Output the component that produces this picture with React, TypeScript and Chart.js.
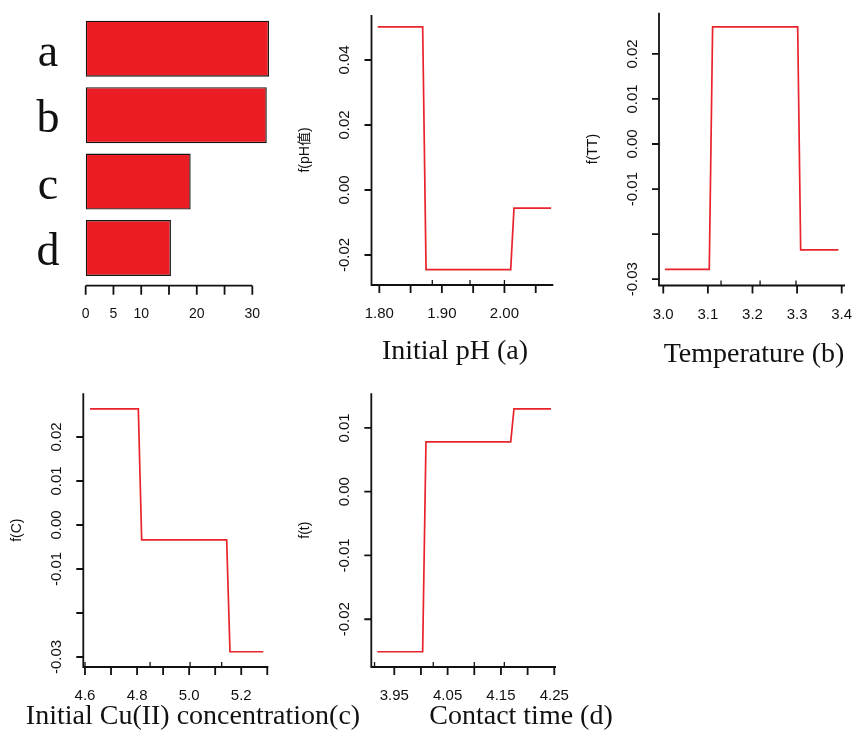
import React, { useEffect, useRef } from "react";
import { Chart, registerables } from "chart.js";

Chart.register(...registerables);

// ---------- Relative influence (bar panel) ----------
const importanceLabels = ["a", "b", "c", "d"];
const importanceValues = [33.0, 32.6, 18.9, 15.35];
const importanceTicks = [0, 5, 10, 15, 20, 25, 30];
const importanceTickLabels = ["0", "5", "10", "", "20", "", "30"];

// ---------- Initial pH (a) ----------
const phX = [1.7975, 1.8693, 1.8747, 2.01, 2.0153, 2.0745];
const phY = [0.0502, 0.0502, -0.0245, -0.0245, -0.0056, -0.0056];
const phXTicks = [1.8, 1.85, 1.9, 1.95, 2.0, 2.05];
const phXTickLabels = ["1.80", "", "1.90", "", "2.00", ""];
const phYTicks = [0.04, 0.02, 0.0, -0.02];
const phYTickLabels = ["0.04", "0.02", "0.00", "-0.02"];
const phRug = [1.8847, 1.945, 2.0];

// ---------- Temperature (b) ----------
const tempX = [3.0038, 3.1031, 3.1106, 3.3013, 3.308, 3.3926];
const tempY = [-0.0278, -0.0278, 0.026, 0.026, -0.0235, -0.0235];
const tempXTicks = [3.0, 3.1, 3.2, 3.3, 3.4];
const tempXTickLabels = ["3.0", "3.1", "3.2", "3.3", "3.4"];
const tempYTicks = [0.02, 0.01, 0.0, -0.01, -0.02, -0.03];
const tempYTickLabels = ["0.02", "0.01", "0.00", "-0.01", "", "-0.03"];
const tempRug = [3.1295, 3.217, 3.2975];

// ---------- Initial Cu(II) concentration (c) ----------
const cuX = [4.6192, 4.8048, 4.8177, 5.1441, 5.1568, 5.2847];
const cuY = [0.0264, 0.0264, -0.0034, -0.0034, -0.0288, -0.0288];
const cuXTicks = [4.6, 4.7, 4.8, 4.9, 5.0, 5.1, 5.2, 5.3];
const cuXTickLabels = ["4.6", "", "4.8", "", "5.0", "", "5.2", ""];
const cuYTicks = [0.02, 0.01, 0.0, -0.01, -0.02, -0.03];
const cuYTickLabels = ["0.02", "0.01", "0.00", "-0.01", "", "-0.03"];
const cuRug = [4.6, 4.85, 5.0036, 5.125];

// ---------- Contact time (d) ----------
const timeX = [3.9181, 4.0032, 4.0094, 4.1683, 4.1744, 4.2438];
const timeY = [-0.0251, -0.0251, 0.0078, 0.0078, 0.013, 0.013];
const timeXTicks = [3.95, 4.0, 4.05, 4.1, 4.15, 4.2, 4.25];
const timeXTickLabels = ["3.95", "", "4.05", "", "4.15", "", "4.25"];
const timeYTicks = [0.01, 0.0, -0.01, -0.02];
const timeYTickLabels = ["0.01", "0.00", "-0.01", "-0.02"];
const timeRug = [3.913, 4.0231, 4.1, 4.1563];

const RED = "#E8232B";
const BAR_RED = "#EC1C24";
const INK = "#111111";
const SANS = '"Liberation Sans", Arial, "Noto Sans CJK SC", sans-serif';
const SERIF = '"Liberation Serif", "Times New Roman", serif';

type LineCfg = {
  box: [number, number, number, number]; // canvas left, top, width, height
  plot: [number, number, number, number]; // plot left, top, right, bottom
  xRange: [number, number];
  yRange: [number, number];
  xs: number[];
  ys: number[];
  xTicks: number[];
  xTickLabels: string[];
  yTicks: number[];
  yTickLabels: string[];
  rug: number[];
  yTitle: string;
  xTitle: string;
  xTitlePos: [number, number];
};

const panels: LineCfg[] = [
  {
    box: [290, 0, 290, 370],
    plot: [371.5, 15, 553.3, 285],
    xRange: [1.7875, 2.0781],
    yRange: [-0.02923, 0.05385],
    xs: phX, ys: phY,
    xTicks: phXTicks, xTickLabels: phXTickLabels,
    yTicks: phYTicks, yTickLabels: phYTickLabels,
    rug: phRug,
    yTitle: "f(pH值)",
    xTitle: "Initial pH (a)",
    xTitlePos: [455, 352],
  },
  {
    box: [580, 0, 273, 370],
    plot: [659, 12.7, 845, 285.5],
    xRange: [2.9904, 3.4074],
    yRange: [-0.0314, 0.02914],
    xs: tempX, ys: tempY,
    xTicks: tempXTicks, xTickLabels: tempXTickLabels,
    yTicks: tempYTicks, yTickLabels: tempYTickLabels,
    rug: tempRug,
    yTitle: "f(TT)",
    xTitle: "Temperature (b)",
    xTitlePos: [754, 355],
  },
  {
    box: [0, 370, 380, 361],
    plot: [83.3, 393.3, 268.3, 667],
    xRange: [4.5935, 5.304],
    yRange: [-0.03227, 0.02993],
    xs: cuX, ys: cuY,
    xTicks: cuXTicks, xTickLabels: cuXTickLabels,
    yTicks: cuYTicks, yTickLabels: cuYTickLabels,
    rug: cuRug,
    yTitle: "f(C)",
    xTitle: "Initial Cu(II) concentration(c)",
    xTitlePos: [193, 717],
  },
  {
    box: [290, 370, 340, 361],
    plot: [371.3, 393.3, 556, 667],
    xRange: [3.9069, 4.2532],
    yRange: [-0.02749, 0.01543],
    xs: timeX, ys: timeY,
    xTicks: timeXTicks, xTickLabels: timeXTickLabels,
    yTicks: timeYTicks, yTickLabels: timeYTickLabels,
    rug: timeRug,
    yTitle: "f(t)",
    xTitle: "Contact time (d)",
    xTitlePos: [521, 717],
  },
];

function rAxesPlugin(cfg: LineCfg) {
  return {
    id: "rAxes",
    afterDraw(chart: any) {
      const ctx: CanvasRenderingContext2D = chart.ctx;
      const a = chart.chartArea;
      const xs = chart.scales.x;
      const ys = chart.scales.y;
      ctx.save();
      ctx.strokeStyle = INK;
      ctx.fillStyle = INK;
      ctx.lineWidth = 1.8;
      ctx.lineCap = "butt";
      // L-shaped frame
      ctx.beginPath();
      ctx.moveTo(a.left, a.top);
      ctx.lineTo(a.left, a.bottom);
      ctx.lineTo(a.right, a.bottom);
      ctx.stroke();
      // y ticks
      ctx.beginPath();
      cfg.yTicks.forEach((v) => {
        const py = ys.getPixelForValue(v);
        ctx.moveTo(a.left, py);
        ctx.lineTo(a.left - 7, py);
      });
      // x ticks
      cfg.xTicks.forEach((v) => {
        const px = xs.getPixelForValue(v);
        ctx.moveTo(px, a.bottom);
        ctx.lineTo(px, a.bottom + 8);
      });
      ctx.stroke();
      // rug marks
      ctx.lineWidth = 1.3;
      ctx.beginPath();
      cfg.rug.forEach((v) => {
        const px = xs.getPixelForValue(v);
        ctx.moveTo(px, a.bottom);
        ctx.lineTo(px, a.bottom - 5);
      });
      ctx.stroke();
      // y tick labels (rotated)
      ctx.font = `15px ${SANS}`;
      ctx.textAlign = "center";
      ctx.textBaseline = "middle";
      cfg.yTicks.forEach((v, i) => {
        const lab = cfg.yTickLabels[i];
        if (!lab) return;
        const py = ys.getPixelForValue(v);
        ctx.save();
        ctx.translate(a.left - 26.5, py);
        ctx.rotate(-Math.PI / 2);
        ctx.fillText(lab, 0, 0);
        ctx.restore();
      });
      // x tick labels
      cfg.xTicks.forEach((v, i) => {
        const lab = cfg.xTickLabels[i];
        if (!lab) return;
        const px = xs.getPixelForValue(v);
        ctx.fillText(lab, px, a.bottom + 29);
      });
      // y title
      ctx.save();
      ctx.font = `14px ${SANS}`;
      ctx.translate(a.left - 66, (a.top + a.bottom) / 2);
      ctx.rotate(-Math.PI / 2);
      ctx.fillText(cfg.yTitle, 0, 0);
      ctx.restore();
      // x title
      ctx.font = `28px ${SERIF}`;
      ctx.fillText(cfg.xTitle, cfg.xTitlePos[0] - cfg.box[0], cfg.xTitlePos[1] - cfg.box[1]);
      ctx.restore();
    },
  };
}

const barBox: [number, number, number, number] = [0, 0, 290, 370];
const barPlot: [number, number, number, number] = [85.67, 15.5, 280.1, 281.2];

const barAxesPlugin = {
  id: "barAxes",
  afterDraw(chart: any) {
    const ctx: CanvasRenderingContext2D = chart.ctx;
    const a = chart.chartArea;
    const xs = chart.scales.x;
    const ys = chart.scales.y;
    ctx.save();
    ctx.strokeStyle = INK;
    ctx.fillStyle = INK;
    ctx.lineWidth = 1.8;
    const axisY = a.bottom + 4.5;
    const first = xs.getPixelForValue(importanceTicks[0]);
    const last = xs.getPixelForValue(importanceTicks[importanceTicks.length - 1]);
    ctx.beginPath();
    ctx.moveTo(first, axisY);
    ctx.lineTo(last, axisY);
    importanceTicks.forEach((v) => {
      const px = xs.getPixelForValue(v);
      ctx.moveTo(px, axisY);
      ctx.lineTo(px, axisY + 9);
    });
    ctx.stroke();
    ctx.font = `14px ${SANS}`;
    ctx.textAlign = "center";
    ctx.textBaseline = "middle";
    importanceTicks.forEach((v, i) => {
      const lab = importanceTickLabels[i];
      if (!lab) return;
      ctx.fillText(lab, xs.getPixelForValue(v), axisY + 28);
    });
    // category letters
    ctx.font = `46px ${SERIF}`;
    ctx.textBaseline = "alphabetic";
    importanceLabels.forEach((lab, i) => {
      const py = ys.getPixelForValue(i);
      ctx.fillText(lab, 48, py + 17);
    });
    ctx.restore();
  },
};

function BarPanel() {
  const ref = useRef<HTMLCanvasElement | null>(null);
  useEffect(() => {
    if (!ref.current) return;
    const [bl, bt, bw, bh] = barBox;
    const [pl, pt, pr, pb] = barPlot;
    const chart = new Chart(ref.current, {
      type: "bar",
      data: {
        labels: importanceLabels,
        datasets: [
          {
            data: importanceValues,
            backgroundColor: BAR_RED,
            borderColor: "#141414",
            borderWidth: 1.4,
            borderSkipped: false,
            barPercentage: 0.843,
            categoryPercentage: 1,
          },
        ],
      },
      options: {
        indexAxis: "y",
        animation: false,
        responsive: false,
        maintainAspectRatio: false,
        events: [],
        layout: {
          padding: { left: pl - bl, top: pt - bt, right: bl + bw - pr, bottom: bt + bh - pb },
        },
        plugins: { legend: { display: false }, tooltip: { enabled: false }, title: { display: false } },
        scales: {
          x: { type: "linear", min: 0, max: 35, display: false },
          y: { type: "category", display: false },
        },
      } as any,
      plugins: [barAxesPlugin],
    });
    return () => chart.destroy();
  }, []);
  const [l, t, w, h] = barBox;
  return (
    <canvas
      ref={ref}
      width={w}
      height={h}
      style={{ position: "absolute", left: l, top: t, width: w, height: h }}
    />
  );
}

function LinePanel({ cfg }: { cfg: LineCfg }) {
  const ref = useRef<HTMLCanvasElement | null>(null);
  useEffect(() => {
    if (!ref.current) return;
    const [bl, bt, bw, bh] = cfg.box;
    const [pl, pt, pr, pb] = cfg.plot;
    const chart = new Chart(ref.current, {
      type: "line",
      data: {
        datasets: [
          {
            data: cfg.xs.map((x, i) => ({ x, y: cfg.ys[i] })),
            borderColor: RED,
            borderWidth: 1.7,
            pointRadius: 0,
            tension: 0,
            fill: false,
          },
        ],
      },
      options: {
        animation: false,
        responsive: false,
        maintainAspectRatio: false,
        events: [],
        layout: {
          padding: { left: pl - bl, top: pt - bt, right: bl + bw - pr, bottom: bt + bh - pb },
        },
        plugins: { legend: { display: false }, tooltip: { enabled: false }, title: { display: false } },
        scales: {
          x: { type: "linear", min: cfg.xRange[0], max: cfg.xRange[1], display: false },
          y: { type: "linear", min: cfg.yRange[0], max: cfg.yRange[1], display: false },
        },
      } as any,
      plugins: [rAxesPlugin(cfg)],
    });
    return () => chart.destroy();
  }, [cfg]);
  const [l, t, w, h] = cfg.box;
  return (
    <canvas
      ref={ref}
      width={w}
      height={h}
      style={{ position: "absolute", left: l, top: t, width: w, height: h }}
    />
  );
}

export default function App() {
  return (
    <div
      style={{
        position: "absolute",
        left: 0,
        top: 0,
        width: 853,
        height: 731,
        background: "#ffffff",
        overflow: "hidden",
      }}
    >
      <BarPanel />
      {panels.map((p, i) => (
        <LinePanel key={i} cfg={p} />
      ))}
    </div>
  );
}
